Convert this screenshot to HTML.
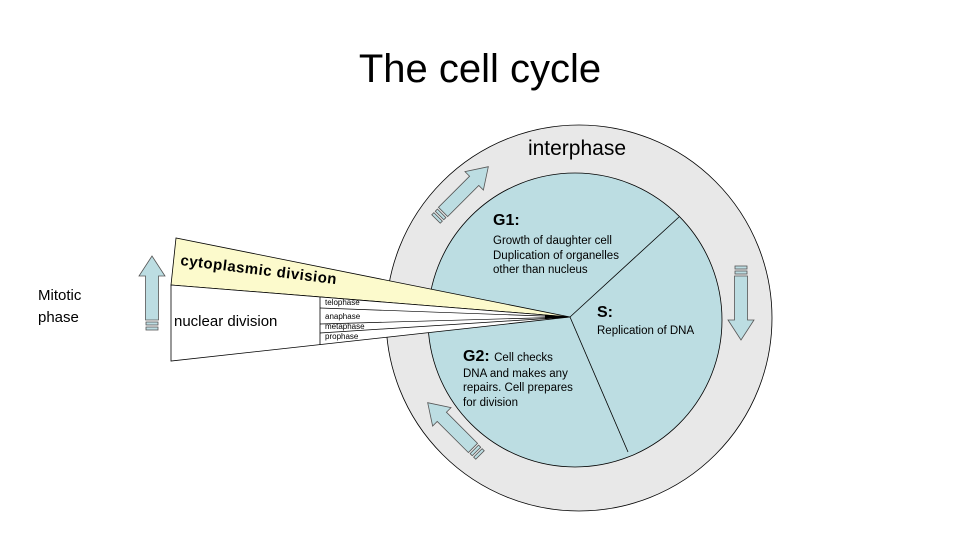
<!DOCTYPE html>
<html><head><meta charset="utf-8"><style>
html,body{margin:0;padding:0;background:#fff;}
svg{display:block;font-family:"Liberation Sans",Arial,sans-serif;}
</style></head><body>
<svg width="960" height="540" viewBox="0 0 960 540">
<defs>
<g id="arr">
<!-- arrow pointing +x, tail at 0 -->
<rect x="0" y="-6" width="3" height="12" fill="#bcdde2" stroke="#555" stroke-width="0.8"/>
<rect x="5" y="-6" width="3" height="12" fill="#bcdde2" stroke="#555" stroke-width="0.8"/>
<path d="M10,-6.5 L54,-6.5 L54,-13 L74,0 L54,13 L54,6.5 L10,6.5 Z" fill="#bcdde2" stroke="#555" stroke-width="0.8"/>
</g>
</defs>
<text x="480" y="82" font-size="40" text-anchor="middle" fill="#000">The cell cycle</text>
<circle cx="579" cy="318" r="193" fill="#e8e8e8" stroke="#000" stroke-width="0.8"/>
<circle cx="575" cy="320" r="147" fill="#bcdde2" stroke="#000" stroke-width="0.8"/>
<line x1="570" y1="317" x2="679" y2="217" stroke="#000" stroke-width="0.8"/>
<line x1="570" y1="317" x2="628" y2="452" stroke="#000" stroke-width="0.8"/>
<!-- wedges -->
<path d="M176,238 L171,285 L570,317 Z" fill="#fcfacc" stroke="#000" stroke-width="0.8"/>
<path d="M171,285 L171,361 L570,317 Z" fill="#fff" stroke="#000" stroke-width="0.8"/>
<line x1="320" y1="297" x2="320" y2="345" stroke="#000" stroke-width="0.8"/>
<line x1="320" y1="308" x2="570" y2="317" stroke="#000" stroke-width="0.7"/>
<line x1="320" y1="324" x2="570" y2="317" stroke="#000" stroke-width="0.7"/>
<line x1="320" y1="333" x2="570" y2="317" stroke="#000" stroke-width="0.7"/>
<path d="M545,315 L570,317 L545,319 Z" fill="#000"/>
<text x="180" y="265" font-size="15" font-weight="bold" fill="#000" transform="rotate(7 180 265)" letter-spacing="0.5">cytoplasmic division</text>
<text x="174" y="326" font-size="15" fill="#000">nuclear division</text>
<g font-size="8" fill="#000">
<text x="325" y="305">telophase</text>
<text x="325" y="319">anaphase</text>
<text x="325" y="329">metaphase</text>
<text x="325" y="339">prophase</text>
</g>
<text x="38" y="300" font-size="15" fill="#000">Mitotic</text>
<text x="38" y="322" font-size="15" fill="#000">phase</text>
<text x="577" y="155" font-size="21" text-anchor="middle" fill="#000">interphase</text>
<text x="493" y="225" font-size="16" font-weight="bold" fill="#000">G1:</text>
<g font-size="11.5" fill="#000">
<text x="493" y="244">Growth of daughter cell</text>
<text x="493" y="259">Duplication of organelles</text>
<text x="493" y="273">other than nucleus</text>
</g>
<text x="597" y="317" font-size="16" font-weight="bold" fill="#000">S:</text>
<text x="597" y="334" font-size="11.5" fill="#000">Replication of DNA</text>
<text x="463" y="361" font-size="16" font-weight="bold" fill="#000">G2: <tspan font-size="11.5" font-weight="normal">Cell checks</tspan></text>
<g font-size="11.5" fill="#000">
<text x="463" y="377">DNA and makes any</text>
<text x="463" y="391">repairs. Cell prepares</text>
<text x="463" y="406">for division</text>
</g>
<use href="#arr" transform="translate(152,330) rotate(-90)"/>
<use href="#arr" transform="translate(741,266) rotate(90)"/>
<use href="#arr" transform="translate(436,219) rotate(-45)"/>
<use href="#arr" transform="translate(480,455) rotate(-135)"/>
</svg>
</body></html>
